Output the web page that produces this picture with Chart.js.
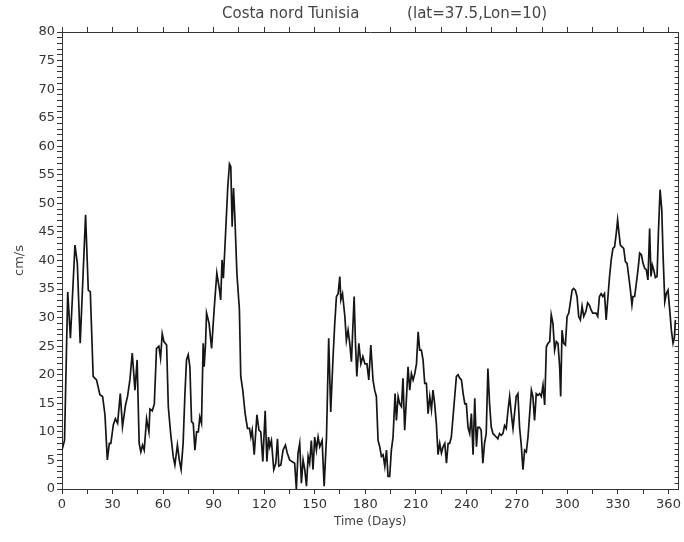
<!DOCTYPE html>
<html>
<head>
<meta charset="utf-8">
<script src="https://cdn.jsdelivr.net/npm/chart.js@4.4.1/dist/chart.umd.min.js"></script>
<style>
  body { margin: 0; background: #fff; }
</style>
</head>
<body>
<canvas id="speedChart" width="684" height="542"></canvas>
<script>
// days and current speed (cm/s)
const days = [
  0, 1.5, 3.4, 5, 7.7, 9.1, 10.8, 14, 15.6, 16.8, 18.5, 20.5, 22.5, 24.1, 25.5, 26.9, 28.1, 29,
  30.5, 31.7, 33, 34.6, 35.9, 37.7, 38.9, 40.3, 41.7, 43.3, 44.6, 45.8, 46.8, 47.8, 48.8, 50.2,
  51.6, 52.2, 53.6, 54.8, 56.1, 57.5, 58.5, 59.5, 60.5,
  62.1, 63.1, 64.5, 66, 67, 68.5, 69.6, 70.7, 71.9, 72.9, 73.9, 74.9, 75.9, 76.9, 77.9, 78.9,
  79.9, 80.9, 81.8, 82.8, 83.8, 84.4, 85.2, 85.8, 87.3, 88.8, 90.3, 91.9, 93.5, 94.2, 95, 95.8,
  97, 98.4, 99.4, 100.2, 101, 101.8, 102.6, 103.8, 105.3, 106.1, 107.3, 108.7, 110.1, 111.3,
  112.1, 112.9, 114.1, 115.7, 116.9, 118, 119.2, 120.6, 121.6, 122.6,
  123.3, 124.3, 125.7, 126.9, 127.9, 128.7, 129.9, 131.2, 132.6, 133.7, 135.1, 136.5, 138.1,
  139.1, 140.1, 141.1, 142.1, 143.1, 144.1, 145.1, 146.1, 147, 148, 149, 150, 151, 152, 153,
  154.4, 155.6, 157, 158.3, 159.5, 160.9, 161.9, 162.9, 163.9, 164.9, 165.5, 166.5, 167.9,
  168.8, 169.8, 170.8, 171.8, 173.4, 174.2, 175, 176.2, 177.4, 178.6, 179.8, 181, 182.1, 183.3,
  184.6, 185.6, 186.6, 187.6, 188.6, 189.6, 190.6, 191.6, 192.6, 193.5, 194.5, 195.5, 196.5,
  197.7, 198.5, 199.5, 200.5, 201.5, 202.4, 203.4, 204.4, 205.4, 206.4, 207.4, 208.4, 209.4,
  210.4, 211.4, 212.3, 213.3, 214.3, 215.3, 216.3, 217.3, 218.3, 219.3, 220.2, 221.2, 222.2,
  223.2, 224.2, 225.2, 226.2, 227.2, 228.2, 229.2, 230.1, 231.1, 232.1, 233.1, 234.1, 235.1,
  236.1, 237.1, 238.1, 239.1, 240, 241, 242, 243, 244, 245, 246,
  246.8, 247.8, 248.8, 249.8, 250.8, 251.8, 252.8, 253.8, 254.8, 255.8, 256.8, 257.8, 258.7,
  259.7, 260.7, 261.7, 262.7, 263.7, 264.7, 265.7, 266.7, 267.7, 268.6, 269.6, 270.6, 271.6,
  272.6, 273.6, 274.6, 275.6, 276.6, 277.6, 278.6, 279.5, 280.5, 281.5, 282.5, 283.5, 284.5,
  285.5, 286.5, 287.5, 288.5, 289.5, 290.4, 291.4, 292.4, 293.4, 294.4, 295.4, 296, 296.8,
  297.8, 298.8, 299.8, 300.8, 301.8, 302.8, 303.7, 304.7, 305.7, 306.7, 307.7, 308.7, 309.7,
  311, 312, 313, 314, 315, 316, 317, 318, 319, 320, 321, 322, 323, 325, 326, 327, 328, 329,
  329.8, 330.6, 331.4, 332.4, 333.4, 334.4, 335.4, 336.4, 337.4, 338.3, 338.9, 339.9, 340.9,
  341.9, 342.9, 343.9, 344.9, 345.9, 346.8, 347.8, 348.8, 349.6, 350.4, 351.2, 352.2, 353.2,
  354, 355, 356, 356.8, 357.8, 358.7, 359.7, 360.7, 361.7, 362.7, 363.5, 364.1
];
const speed = [
  6.8, 8.5, 34.5, 26.4, 42.7, 39.5, 25.5, 48, 34.8, 34.5, 19.7, 19.1, 16.5, 16.2, 13, 5.1, 8, 8,
  11.3, 12.3, 11.5, 16.7, 10.9, 14.7, 16.2, 19.1, 23.8, 17.3, 22.6, 8, 6.5, 7.7, 6.8, 12.3,
  10, 14, 13.7, 14.9, 24.6, 25, 22.9, 27.2, 25.8,
  25.2, 14.4, 9.7, 5.7, 4.2, 7.7, 5.1, 3.4, 8, 16.2, 22.6, 23.5, 21.4, 11.8, 11.5, 6.8,
  10, 10, 12.6, 11.5, 25.5, 21.4, 25.5, 30.8, 29, 24.6, 31.4, 37.8, 34.8, 33.1, 40.1, 36.9,
  44.2, 52.9, 56.9, 56.4, 45.9, 52.7, 47.7, 37.8, 31.4, 19.7, 17.3, 13.2, 10.6, 10.6,
  9.1, 10.3, 6, 13, 10.3, 10, 4.8, 13.7, 4.8, 9.1,
  7.4, 8.5, 3.4, 4.5, 8.8, 4, 4.2, 6.8, 7.7, 6.3, 5.1, 4.8, 4.5,
  0, 6.3, 8, 1, 5.1, 3.4, 0.5, 5.7, 4.5, 8.5, 3.4, 9.1, 6.8, 9.1, 7.4,
  8.5, 0.5, 9.1, 26.4, 13.5, 23.2, 29, 33.7, 34.2, 37.2, 33.1, 34.2, 30.2,
  26, 27.8, 25.5, 22.3, 33.7, 25.5, 19.7, 25.5, 21.9, 23.2, 21.9, 21.9, 19.1, 25.2,
  19.1, 17.3, 16.2, 8.5, 7.4, 5.7, 6, 4, 6.8, 2.2, 2.2, 6.8, 9.1,
  16.7, 12, 16.2, 14.9, 14.4, 19.4, 10.3, 15.6, 21.4, 17.3, 20.2, 19.1, 20.2,
  21.9, 27.5, 24.3, 24.3, 22.6, 18.5, 18.5, 13.2, 16.2, 13.9, 17.3, 14.9, 11.5,
  6, 8, 6.3, 7.4, 8, 4.5, 8, 8, 9.1, 12.6, 16.2, 19.7, 20,
  19.4, 19.1, 16.7, 14.9, 14.9, 10.8, 9.7, 13.2, 6, 15.9, 7.4,
  10.8, 10.8, 10.3, 4.5, 8, 9.7, 21.1, 14.9, 10.8, 9.7, 9.4, 9.1, 8.8,
  9.7, 9.4, 9.7, 11.1, 10.6, 13.7, 16.2, 13.2, 10.6, 13.2, 16.2, 16.7, 10.8,
  7.7, 3.4, 6.8, 6.5, 9.1, 13.2, 17.3, 16.2, 12, 16.7, 16.4, 16.7, 16.2,
  18.2, 14.7, 24.9, 25.5, 25.8, 30.5, 29, 24.3, 25.8, 25.5, 21.4, 16.2, 27.8,
  25.5, 25.2, 30.2, 30.8, 32.8, 34.8, 35.1, 34.8, 33.7, 30.2, 29.6, 32, 30.2,
  31.1, 32.6, 32.2, 31.4, 30.8, 30.8, 30.8, 30.2, 33.7, 34.2, 33.7, 34.2, 29.6, 37.2, 40.1, 42.1, 42.4, 44.8,
  47.1, 44.8, 42.7, 42.4, 42.1, 39.8, 39.5, 37.2, 34.8, 32.2, 33.7, 33.7, 36,
  38.4, 41.3, 41, 39.5, 38.6, 38.4, 36.6, 45.6, 37.2, 39.2, 38.4, 37, 37.2,
  44.8, 52.4, 48.9, 40.7, 32.8, 34.2, 34.8, 31.4, 27.8, 25.5, 26.5, 29.6
];
const xTickLabels = [0, 30, 60, 90, 120, 150, 180, 210, 240, 270, 300, 330, 360];
const xMinorTicks = [15, 45, 75, 105, 135, 165, 195, 225, 255, 285, 315, 345];
const yTickLabels = [0, 5, 10, 15, 20, 25, 30, 35, 40, 45, 50, 55, 60, 65, 70, 75, 80];

const points = days.map((d, i) => ({ x: d, y: speed[i] }));
const axisColor = '#333';
const labelFont = { family: 'DejaVu Sans', size: 13 };
const xTickSet = s => {
  s.ticks = xTickLabels.concat(xMinorTicks).sort((a, b) => a - b).map(v => ({ value: v }));
};

const ctx = document.getElementById('speedChart').getContext('2d');
const myChart = new Chart(ctx, {
  type: 'line',
  data: {
    datasets: [{
      data: points,
      borderColor: '#151515',
      borderWidth: 1.7,
      pointRadius: 0,
      tension: 0,
      fill: false
    }]
  },
  options: {
    responsive: false,
    animation: false,
    devicePixelRatio: 1,
    layout: { padding: 0 },
    plugins: {
      legend: { display: false },
      tooltip: { enabled: false },
      title: {
        display: true,
        fullSize: false,
        text: '      Costa nord Tunisia          (lat=37.5,Lon=10)',
        color: '#444',
        font: { family: 'DejaVu Sans', size: 15, weight: 'normal' },
        padding: { top: 5, bottom: 0 }
      }
    },
    scales: {
      x: {
        type: 'linear', position: 'bottom', min: 0, max: 366,
        afterBuildTicks: xTickSet,
        ticks: {
          autoSkip: false, maxRotation: 0, color: axisColor, font: labelFont, padding: 3,
          callback: v => xTickLabels.includes(v) ? v : ''
        },
        grid: { drawOnChartArea: false, tickLength: 5, color: axisColor },
        border: { color: axisColor },
        title: { display: true, text: 'Time (Days)', color: '#444', font: { family: 'DejaVu Sans', size: 12 }, padding: { top: 0, bottom: 13 } },
        afterFit: s => { s.height = 53; }
      },
      x2: {
        type: 'linear', position: 'top', min: 0, max: 366,
        afterBuildTicks: xTickSet,
        ticks: { display: false },
        grid: { drawOnChartArea: false, tickLength: 5, color: axisColor },
        border: { color: axisColor },
        afterFit: s => { s.height = 9; }
      },
      y: {
        type: 'linear', position: 'left', min: 0, max: 80,
        ticks: {
          stepSize: 1, autoSkip: false, color: axisColor, font: labelFont, padding: 2,
          callback: v => yTickLabels.includes(v) ? v : ''
        },
        grid: { drawOnChartArea: false, tickLength: 5, color: axisColor },
        border: { color: axisColor },
        title: { display: true, text: 'cm/s', color: '#444', font: { family: 'DejaVu Sans', size: 13 }, padding: { top: 12, bottom: 0 } },
        afterFit: s => { s.width = 62; }
      },
      y2: {
        type: 'linear', position: 'right', min: 0, max: 80,
        ticks: { stepSize: 1, display: false },
        grid: { drawOnChartArea: false, tickLength: -4, color: axisColor },
        border: { color: axisColor },
        afterFit: s => { s.width = 5; }
      }
    }
  }
});
</script>
</body>
</html>
